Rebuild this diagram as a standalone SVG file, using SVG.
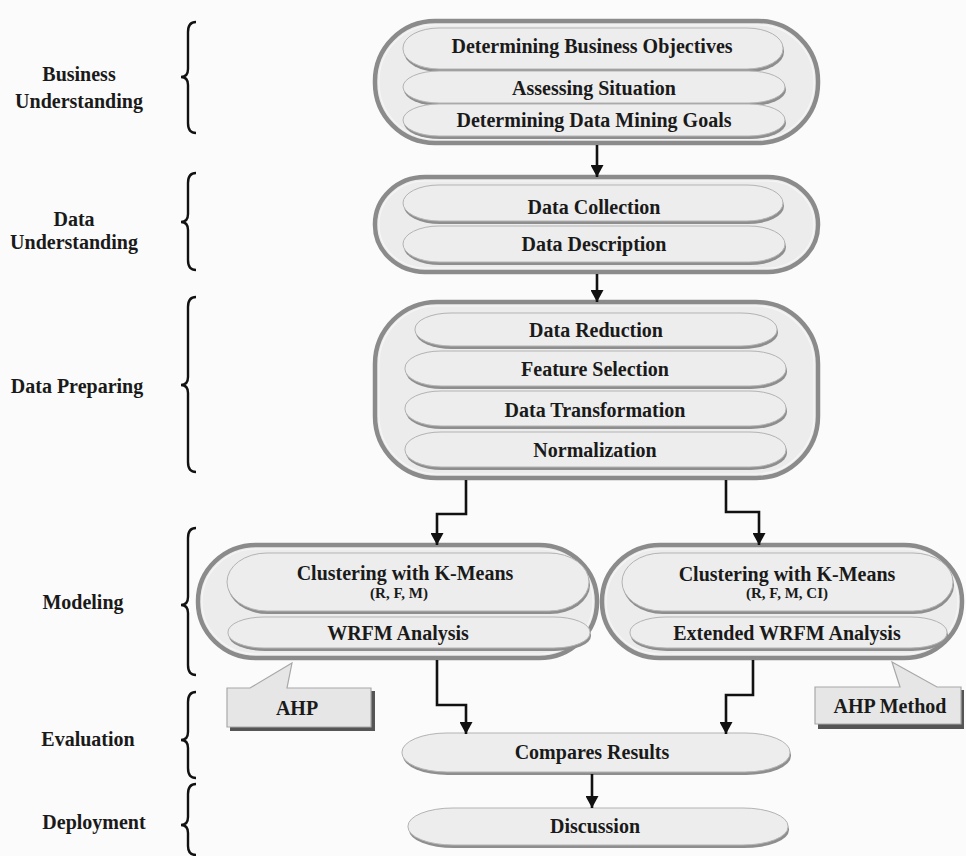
<svg xmlns="http://www.w3.org/2000/svg" width="966" height="856" viewBox="0 0 966 856">
<defs>
<marker id="ah" markerUnits="userSpaceOnUse" markerWidth="13" markerHeight="13" refX="12" refY="6.5" orient="auto">
<path d="M0,0 L12,6.5 L0,13 z" fill="#111"/>
</marker>
<style>
text{font-family:"Liberation Serif","Times New Roman",serif;font-weight:bold;fill:#1a1a1a;text-anchor:middle}
.t{font-size:20px}
.s{font-size:15px}
.box{fill:#ececec;stroke:#8b8b8b;stroke-width:4.5}
.boxin{fill:none;stroke:#f6f6f6;stroke-width:1.2}
.pill{fill:#ededed;stroke:#b3b3b3;stroke-width:1}
.sh{fill:#8e8e8e}
.brace{fill:none;stroke:#111;stroke-width:2.4}
.conn{fill:none;stroke:#111;stroke-width:2.6}
.call{fill:#e6e6e6;stroke:#a8a8a8;stroke-width:1.2}
.callsh{fill:#555}
</style>
</defs>
<rect width="966" height="856" fill="#fbfbfb"/>

<g id="phase-labels">
<text class="t" x="79" y="81">Business</text>
<text class="t" x="79" y="108">Understanding</text>
<text class="t" x="74" y="226">Data</text>
<text class="t" x="74" y="249">Understanding</text>
<text class="t" x="77" y="393">Data Preparing</text>
<text class="t" x="83" y="609">Modeling</text>
<text class="t" x="88" y="746">Evaluation</text>
<text class="t" x="94" y="829">Deployment</text>
</g>

<g id="braces">
<path class="brace" d="M196 22 Q188 22 188 32 L188 69 Q188 77 181 77 Q188 77 188 85 L188 123 Q188 133 196 133"/>
<path class="brace" d="M196 173 Q188 173 188 183 L188 214 Q188 222 181 222 Q188 222 188 230 L188 260 Q188 270 196 270"/>
<path class="brace" d="M196 297 Q188 297 188 307 L188 377 Q188 385 181 385 Q188 385 188 393 L188 462 Q188 472 196 472"/>
<path class="brace" d="M196 528 Q188 528 188 538 L188 597 Q188 605 181 605 Q188 605 188 613 L188 665 Q188 675 196 675"/>
<path class="brace" d="M196 692 Q188 692 188 702 L188 732 Q188 740 181 740 Q188 740 188 748 L188 768 Q188 778 196 778"/>
<path class="brace" d="M196 784 Q188 784 188 794 L188 817 Q188 825 181 825 Q188 825 188 833 L188 846 Q188 855 196 855"/>
</g>

<g id="business-understanding">
<rect class="box" x="375" y="21" width="443" height="122" rx="60" ry="60"/>
<rect class="boxin" x="379" y="25" width="435" height="114" rx="56" ry="56"/>
<rect class="sh" x="404" y="31" width="380" height="41" rx="36" ry="20"/>
<rect class="pill" x="403" y="28" width="380" height="41" rx="36" ry="20"/>
<rect class="sh" x="404" y="74" width="382" height="32" rx="36" ry="16"/>
<rect class="pill" x="403" y="71" width="382" height="32" rx="36" ry="16"/>
<rect class="sh" x="404" y="107" width="382" height="32" rx="36" ry="16"/>
<rect class="pill" x="403" y="104" width="382" height="32" rx="36" ry="16"/>
<text class="t" x="592" y="53">Determining Business Objectives</text>
<text class="t" x="594" y="95">Assessing Situation</text>
<text class="t" x="594" y="127">Determining Data Mining Goals</text>
</g>

<g id="data-understanding">
<rect class="box" x="375" y="177" width="443" height="95" rx="50" ry="47"/>
<rect class="boxin" x="379" y="181" width="435" height="87" rx="46" ry="43"/>
<rect class="sh" x="404" y="188" width="380" height="36" rx="36" ry="18"/>
<rect class="pill" x="403" y="185" width="380" height="36" rx="36" ry="18"/>
<rect class="sh" x="404" y="229" width="382" height="36" rx="36" ry="18"/>
<rect class="pill" x="403" y="226" width="382" height="36" rx="36" ry="18"/>
<text class="t" x="594" y="214">Data Collection</text>
<text class="t" x="594" y="251">Data Description</text>
</g>

<g id="data-preparing">
<rect class="box" x="375" y="302" width="443" height="176" rx="62" ry="62"/>
<rect class="boxin" x="379" y="306" width="435" height="168" rx="58" ry="58"/>
<rect class="sh" x="416" y="316" width="362" height="33" rx="36" ry="16"/>
<rect class="pill" x="415" y="313" width="362" height="33" rx="36" ry="16"/>
<rect class="sh" x="406" y="354" width="381" height="35" rx="36" ry="17"/>
<rect class="pill" x="405" y="351" width="381" height="35" rx="36" ry="17"/>
<rect class="sh" x="406" y="394" width="381" height="35" rx="36" ry="17"/>
<rect class="pill" x="405" y="391" width="381" height="35" rx="36" ry="17"/>
<rect class="sh" x="406" y="435" width="381" height="35" rx="36" ry="17"/>
<rect class="pill" x="405" y="432" width="381" height="35" rx="36" ry="17"/>
<text class="t" x="596" y="337">Data Reduction</text>
<text class="t" x="595" y="376">Feature Selection</text>
<text class="t" x="595" y="417">Data Transformation</text>
<text class="t" x="595" y="457">Normalization</text>
</g>

<g id="modeling-rfm">
<rect class="box" x="198" y="545" width="399" height="113" rx="58" ry="56"/>
<rect class="boxin" x="202" y="549" width="391" height="105" rx="54" ry="52"/>
<rect class="sh" x="228" y="556" width="362" height="58" rx="40" ry="29"/>
<rect class="pill" x="227" y="553" width="362" height="58" rx="40" ry="29"/>
<rect class="sh" x="229" y="620" width="362" height="31" rx="36" ry="15"/>
<rect class="pill" x="228" y="617" width="362" height="31" rx="36" ry="15"/>
<text class="t" x="405" y="580">Clustering with K-Means</text>
<text class="s" x="399" y="598">(R, F, M)</text>
<text class="t" x="398" y="640">WRFM Analysis</text>
</g>

<g id="modeling-rfmci">
<rect class="box" x="602" y="545" width="360" height="113" rx="58" ry="56"/>
<rect class="boxin" x="606" y="549" width="352" height="105" rx="54" ry="52"/>
<rect class="sh" x="623" y="556" width="331" height="58" rx="40" ry="29"/>
<rect class="pill" x="622" y="553" width="331" height="58" rx="40" ry="29"/>
<rect class="sh" x="631" y="620" width="317" height="31" rx="36" ry="15"/>
<rect class="pill" x="630" y="617" width="317" height="31" rx="36" ry="15"/>
<text class="t" x="787" y="581">Clustering with K-Means</text>
<text class="s" x="787" y="598">(R, F, M, CI)</text>
<text class="t" x="787" y="640">Extended WRFM Analysis</text>
</g>

<g id="ahp">
<polygon class="callsh" points="230,691 375,691 375,731 230,731"/>
<polygon class="call" points="227,688 250,688 292,663 287,688 371,688 371,727 227,727"/>
<text class="t" x="297" y="715">AHP</text>
</g>

<g id="ahp-method">
<polygon class="callsh" points="818,690 964,690 964,729 818,729"/>
<polygon class="call" points="815,687 900,687 892,662 937,687 961,687 961,724 815,724"/>
<text class="t" x="890" y="713">AHP Method</text>
</g>

<g id="compares-results">
<rect class="sh" x="403" y="736" width="388" height="39" rx="45" ry="19"/>
<rect class="pill" x="402" y="733" width="388" height="39" rx="45" ry="19"/>
<text class="t" x="592" y="759">Compares Results</text>
</g>

<g id="discussion">
<rect class="sh" x="409" y="811" width="380" height="37" rx="45" ry="18"/>
<rect class="pill" x="408" y="808" width="380" height="37" rx="45" ry="18"/>
<text class="t" x="595" y="833">Discussion</text>
</g>

<g id="connectors">
<path class="conn" marker-end="url(#ah)" d="M597 145 V177"/>
<path class="conn" marker-end="url(#ah)" d="M597 274 V302"/>
<path class="conn" marker-end="url(#ah)" d="M466 480 V514 H437 V545"/>
<path class="conn" marker-end="url(#ah)" d="M726 480 V512 H759 V545"/>
<path class="conn" marker-end="url(#ah)" d="M437 660 V705 H466 V734"/>
<path class="conn" marker-end="url(#ah)" d="M753 660 V695 H726 V734"/>
<path class="conn" marker-end="url(#ah)" d="M592 774 V808"/>
</g>
</svg>
